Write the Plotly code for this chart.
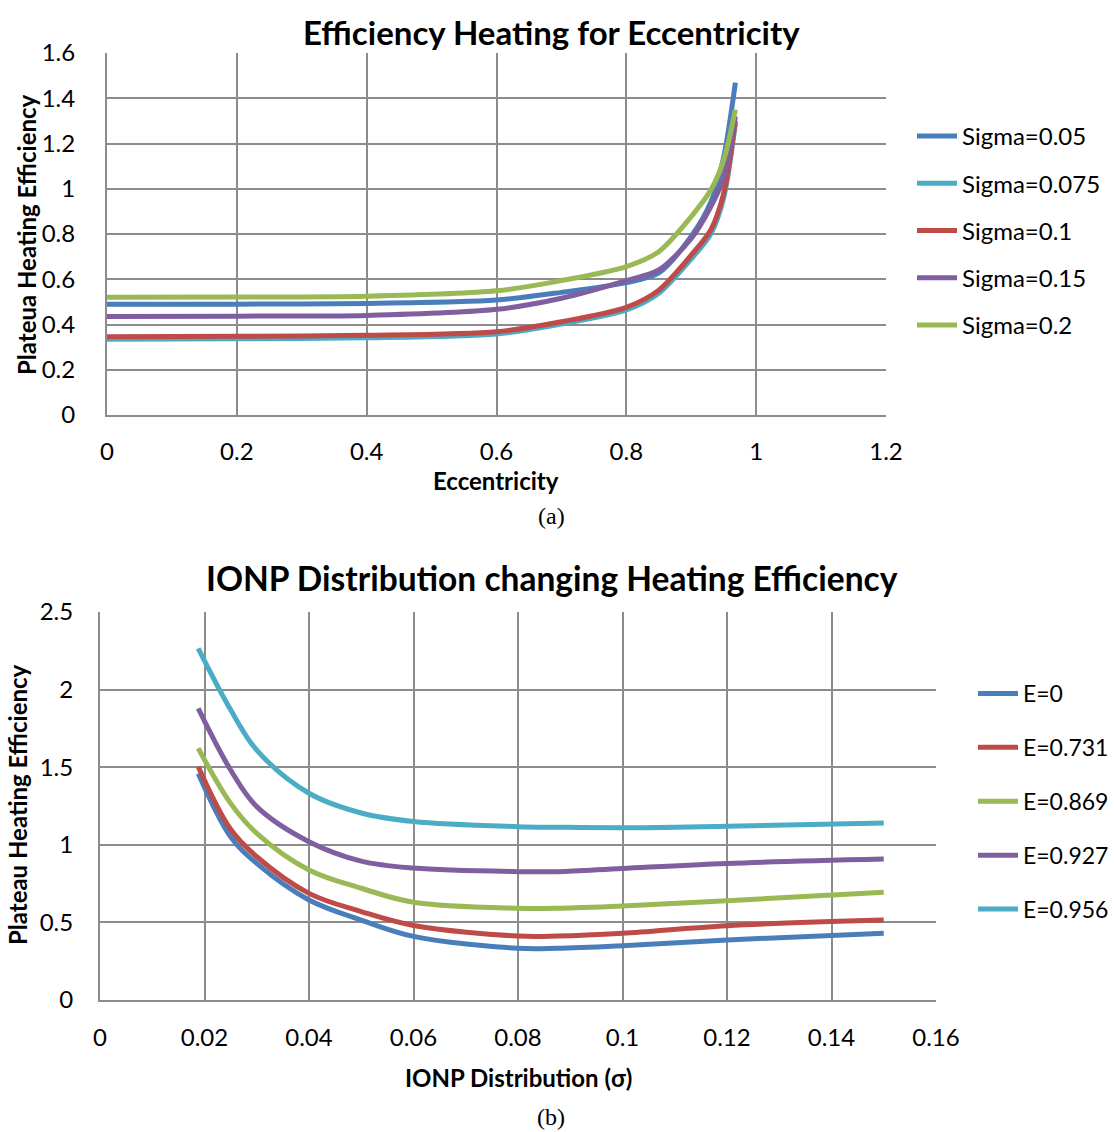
import plotly.graph_objects as go

# ---- Chart (a) data ----
ecc = [0, 0.2, 0.4, 0.6, 0.7, 0.8, 0.85, 0.9, 0.93, 0.95, 0.968]
sig005 = [0.489, 0.490, 0.493, 0.508, 0.542, 0.585, 0.628, 0.79, 0.94, 1.14, 1.469]
sig0075 = [0.335, 0.337, 0.341, 0.358, 0.402, 0.464, 0.538, 0.69, 0.80, 0.96, 1.29]
sig01 = [0.346, 0.348, 0.352, 0.368, 0.412, 0.476, 0.552, 0.707, 0.818, 0.98, 1.30]
sig015 = [0.435, 0.437, 0.440, 0.467, 0.516, 0.594, 0.641, 0.78, 0.92, 1.05, 1.32]
sig02 = [0.520, 0.521, 0.525, 0.549, 0.594, 0.656, 0.722, 0.877, 0.994, 1.127, 1.35]
names_a = ["Sigma=0.05", "Sigma=0.075", "Sigma=0.1", "Sigma=0.15", "Sigma=0.2"]

# ---- Chart (b) data ----
sigma = [0.0188, 0.025, 0.03, 0.04, 0.05, 0.06, 0.08, 0.0875, 0.1, 0.12, 0.15]
e0 = [1.46, 1.052, 0.88, 0.644, 0.515, 0.41, 0.333, 0.333, 0.35, 0.387, 0.43]
e0731 = [1.503, 1.10, 0.923, 0.687, 0.57, 0.48, 0.412, 0.412, 0.43, 0.479, 0.515]
e0869 = [1.622, 1.267, 1.074, 0.838, 0.72, 0.63, 0.591, 0.591, 0.606, 0.64, 0.694]
e0927 = [1.879, 1.482, 1.246, 1.02, 0.895, 0.85, 0.827, 0.827, 0.848, 0.88, 0.908]
e0956 = [2.266, 1.87, 1.61, 1.332, 1.205, 1.15, 1.117, 1.113, 1.11, 1.12, 1.14]
names_b = ["E=0", "E=0.731", "E=0.869", "E=0.927", "E=0.956"]

BLUE = "#4A7EBB"
CYAN = "#4BACC6"
RED = "#BE4B48"
PURPLE = "#7F5F9F"
GREEN = "#98B954"
GRID = "#8C8C8C"
FONT = "Lato"
FS = 24

W, H = 1114, 1132

fig = go.Figure()

for nm, ys, col in zip(names_a, [sig005, sig0075, sig01, sig015, sig02],
                       [BLUE, CYAN, RED, PURPLE, GREEN]):
    fig.add_trace(go.Scatter(x=ecc, y=ys, name=nm, mode="lines",
                             line=dict(color=col, width=5, shape="spline", smoothing=0.8),
                             xaxis="x", yaxis="y", legend="legend", legendgroup=nm))

for nm, ys, col in zip(names_b, [e0, e0731, e0869, e0927, e0956],
                       [BLUE, RED, GREEN, PURPLE, CYAN]):
    fig.add_trace(go.Scatter(x=sigma, y=ys, name=nm, mode="lines",
                             line=dict(color=col, width=5, shape="spline", smoothing=1.0),
                             xaxis="x2", yaxis="y2", legend="legend2", legendgroup=nm))

axcommon = dict(showgrid=True, gridcolor=GRID, gridwidth=2, showline=True,
                linecolor=GRID, linewidth=2, zeroline=False, ticks="", automargin=False,
                tickfont=dict(family=FONT, size=FS, color="black"))


def ann(text, x, y, size=FS, family=FONT, angle=0):
    return dict(text=text, x=x / W, y=1 - y / H, xref="paper", yref="paper",
                showarrow=False, xanchor="center", yanchor="middle", textangle=angle,
                font=dict(family=family, size=size, color="black"))


fig.update_layout(
    width=W, height=H,
    margin=dict(l=0, r=0, t=0, b=0),
    paper_bgcolor="white", plot_bgcolor="white",
    font=dict(family=FONT, color="black"),
    xaxis=dict(domain=[107 / W, 886 / W], range=[0, 1.2], dtick=0.2, anchor="y",
               ticklabelstandoff=14, **axcommon),
    yaxis=dict(domain=[1 - 415 / H, 1 - 53 / H], range=[0, 1.6], dtick=0.2, anchor="x",
               ticklabelstandoff=25, **axcommon),
    xaxis2=dict(domain=[100 / W, 936 / W], range=[0, 0.16], dtick=0.02, anchor="y2",
                ticklabelstandoff=15, **axcommon),
    yaxis2=dict(domain=[1 - 1000 / H, 1 - 612 / H], range=[0, 2.5], dtick=0.5, anchor="x2",
                ticklabelstandoff=20, **axcommon),
    legend=dict(x=912 / W, y=1 - 114 / H, xanchor="left", yanchor="top",
                font=dict(family=FONT, size=FS, color="black"),
                tracegroupgap=13, bgcolor="rgba(0,0,0,0)", itemwidth=40),
    legend2=dict(x=1.0, y=1 - 672 / H, xanchor="right", yanchor="top",
                 font=dict(family=FONT, size=23, color="black"),
                 tracegroupgap=21, bgcolor="rgba(0,0,0,0)", itemwidth=40),
    annotations=[
        ann("<b>Efficiency Heating for Eccentricity</b>", 551, 32, size=33),
        ann("<b>IONP Distribution changing Heating Efficiency</b>", 552, 578, size=33.5),
        ann("<b>Eccentricity</b>", 496, 480),
        ann("<b>Plateua Heating Efficiency</b>", 26, 235, angle=-90),
        ann("<b>IONP Distribution (σ)</b>", 518, 1077),
        ann("<b>Plateau Heating Efficiency</b>", 18, 805, angle=-90),
        ann("(a)", 551, 516, size=24, family="Liberation Serif"),
        ann("(b)", 551, 1117, size=24, family="Liberation Serif"),
    ],
)

fig.write_html("out.html")
